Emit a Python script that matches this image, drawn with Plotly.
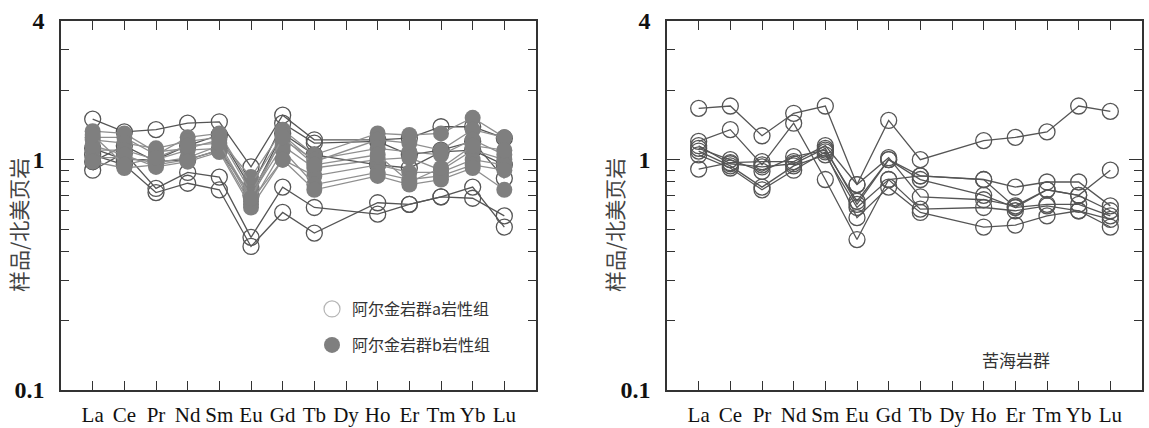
import plotly.graph_objects as go

elements = ["La", "Ce", "Pr", "Nd", "Sm", "Eu", "Gd", "Tb", "Dy", "Ho", "Er", "Tm", "Yb", "Lu"]
N = None  # Dy not analysed

# Left panel, group a (open circles)
a1 = [1.50, 1.32, 1.35, 1.44, 1.46, 0.93, 1.56, 1.22, N, 1.22, 1.24, 1.39, 1.39, 1.24]
a2 = [0.90, 1.07, 0.75, 0.88, 0.84, 0.46, 0.76, 0.62, N, 0.58, 0.64, 0.69, 0.68, 0.57]
a3 = [1.05, 0.95, 0.72, 0.79, 0.74, 0.42, 0.59, 0.48, N, 0.65, 0.64, 0.69, 0.76, 0.51]
a4 = [1.12, 1.00, 1.00, 1.15, 1.28, 0.75, 1.44, 1.18, N, 1.20, 1.05, 1.10, 1.20, 0.83]
a5 = [0.98, 1.15, 0.98, 1.00, 1.10, 0.70, 1.30, 1.05, N, 0.95, 0.92, 1.08, 1.10, 0.95]
group_a = [a1, a2, a3, a4, a5]

# Left panel, group b (filled circles)
b1 = [1.33, 1.30, 1.08, 1.12, 1.22, 0.84, 1.35, 1.05, N, 1.30, 1.28, 1.30, 1.52, 1.25]
b2 = [1.25, 1.25, 1.05, 1.25, 1.30, 0.78, 1.28, 0.98, N, 1.22, 1.18, 1.10, 1.35, 1.25]
b3 = [1.22, 1.18, 1.12, 1.20, 1.25, 0.72, 1.22, 1.00, N, 1.12, 1.08, 1.05, 1.22, 1.05]
b4 = [1.10, 1.10, 1.00, 1.10, 1.12, 0.70, 1.15, 0.92, N, 1.00, 1.02, 0.90, 1.10, 1.00]
b5 = [1.02, 1.02, 0.97, 1.02, 1.15, 0.66, 1.00, 0.85, N, 0.95, 0.88, 0.88, 1.00, 0.95]
b6 = [0.98, 0.92, 0.95, 1.00, 1.10, 0.64, 1.10, 0.78, N, 0.88, 0.82, 0.85, 0.95, 0.90]
b7 = [1.15, 1.05, 0.93, 0.98, 1.08, 0.62, 1.00, 0.74, N, 0.85, 0.78, 0.82, 0.92, 0.74]
b8 = [1.28, 0.95, 1.02, 1.15, 1.18, 0.68, 1.25, 0.95, N, 1.05, 0.80, 0.92, 1.15, 1.10]
group_b = [b1, b2, b3, b4, b5, b6, b7, b8]

# Right panel (苦海岩群)
r1 = [1.67, 1.71, 1.27, 1.59, 1.71, 0.78, 1.48, 1.00, N, 1.21, 1.25, 1.32, 1.71, 1.62]
r2 = [1.20, 1.35, 0.95, 1.44, 0.82, 0.45, 0.82, 0.85, N, 0.82, 0.76, 0.80, 0.80, 0.63]
r3 = [0.91, 0.97, 0.98, 0.98, 1.15, 0.78, 1.02, 0.69, N, 0.67, 0.63, 0.74, 0.70, 0.90]
r4 = [1.12, 1.00, 0.89, 1.03, 1.10, 0.66, 1.00, 0.82, N, 0.70, 0.62, 0.64, 0.64, 0.57]
r5 = [1.09, 0.94, 0.76, 0.94, 1.05, 0.62, 0.82, 0.61, N, 0.62, 0.60, 0.63, 0.60, 0.55]
r6 = [1.05, 0.92, 0.74, 0.90, 1.08, 0.56, 0.76, 0.59, N, 0.51, 0.52, 0.57, 0.60, 0.51]
r7 = [1.15, 0.96, 0.93, 0.96, 1.12, 0.64, 1.00, 0.85, N, 0.82, 0.62, 0.74, 0.70, 0.60]
group_r = [r1, r2, r3, r4, r5, r6, r7]

y_major = [0.1, 1, 4]
y_major_text = ["0.1", "1", "4"]
y_minor = [0.2, 0.3, 0.4, 0.5, 0.6, 0.7, 0.8, 0.9, 2, 3]

legend_a = "阿尔金岩群a岩性组"
legend_b = "阿尔金岩群b岩性组"
panel_label = "苦海岩群"
y_title = "样品/北美页岩"

W, H = 1149, 428
DARK = "#555555"
FILL = "#7f7f7f"
LIGHT_LINE = "#8f8f8f"
MS = 16
CJK = "Noto Sans CJK SC"

fig = go.Figure()
xs = list(range(len(elements)))

def open_trace(vals, xa, ya):
    return go.Scatter(x=xs, y=vals, xaxis=xa, yaxis=ya, mode="lines+markers",
                      connectgaps=True, showlegend=False,
                      line=dict(color=DARK, width=1.3),
                      marker=dict(symbol="circle-open", size=MS, color=DARK,
                                  line=dict(width=1.3, color=DARK)))

for s in group_a:
    fig.add_trace(open_trace(s, "x", "y"))
for s in group_b:
    fig.add_trace(go.Scatter(x=xs, y=s, xaxis="x", yaxis="y", mode="lines+markers",
                             connectgaps=True, showlegend=False,
                             line=dict(color=LIGHT_LINE, width=1.3),
                             marker=dict(symbol="circle", size=MS, color=FILL,
                                         line=dict(width=0))))
for s in group_r:
    fig.add_trace(open_trace(s, "x2", "y2"))

# legend-only entries
fig.add_trace(go.Scatter(x=[None], y=[None], xaxis="x", yaxis="y", mode="markers",
                         name=legend_a, legend="legend",
                         marker=dict(symbol="circle-open", size=16, color="#b5b5b5",
                                     line=dict(width=1.2, color="#b5b5b5"))))
fig.add_trace(go.Scatter(x=[None], y=[None], xaxis="x", yaxis="y", mode="markers",
                         name=legend_b, legend="legend2",
                         marker=dict(symbol="circle", size=16, color=FILL)))

def px_x(p):
    return p / W

def px_y(p):
    return 1 - p / H

xdom1 = [px_x(61), px_x(536)]
xdom2 = [px_x(667), px_x(1142)]
ydom = [px_y(390), px_y(21)]

def xaxis(dom, anchor):
    return dict(domain=dom, anchor=anchor, range=[-1, 14], tickmode="array",
                tickvals=xs, ticktext=elements, ticks="inside", ticklen=9,
                tickwidth=1.2, tickcolor="#333", showline=True, linecolor="#333",
                linewidth=1.5, mirror="ticks", showgrid=False, zeroline=False,
                ticklabelstandoff=5,
                tickfont=dict(family="Liberation Serif", size=21, color="#111"))

def yaxis(anchor):
    return dict(domain=ydom, anchor=anchor, type="log",
                range=[-1, 0.60206], tickmode="array", tickvals=y_major,
                ticktext=["<b>%s</b>" % t for t in y_major_text],
                ticks="inside", ticklen=13, tickwidth=1.2, tickcolor="#333",
                minor=dict(tickmode="array", tickvals=y_minor, ticks="inside",
                           ticklen=8, tickwidth=1.2, tickcolor="#333", showgrid=False),
                showline=True, linecolor="#333", linewidth=1.5, mirror="ticks",
                showgrid=False, zeroline=False, ticklabelstandoff=10,
                tickfont=dict(family="Liberation Serif", size=24, color="#111"))

fig.update_layout(
    width=W, height=H,
    margin=dict(l=0, r=0, t=0, b=0, autoexpand=False),
    paper_bgcolor="white", plot_bgcolor="white",
    xaxis=xaxis(xdom1, "y"), yaxis=yaxis("x"),
    xaxis2=xaxis(xdom2, "y2"), yaxis2=yaxis("x2"),
    legend=dict(x=px_x(312), y=px_y(309), xanchor="left", yanchor="middle",
                bgcolor="rgba(0,0,0,0)", itemclick=False,
                font=dict(family=CJK, size=16, color="#333")),
    legend2=dict(x=px_x(312), y=px_y(345), xanchor="left", yanchor="middle",
                 bgcolor="rgba(0,0,0,0)", itemclick=False,
                 font=dict(family=CJK, size=16, color="#333")),
    annotations=[
        dict(text=y_title, xref="paper", yref="paper", x=px_x(18), y=px_y(225),
             xanchor="center", yanchor="middle",
             textangle=-90, showarrow=False,
             font=dict(family=CJK, size=21, color="#444")),
        dict(text=y_title, xref="paper", yref="paper", x=px_x(614), y=px_y(225),
             xanchor="center", yanchor="middle",
             textangle=-90, showarrow=False,
             font=dict(family=CJK, size=21, color="#444")),
        dict(text=panel_label, xref="paper", yref="paper", x=px_x(1016), y=px_y(359),
             xanchor="center", yanchor="middle", showarrow=False,
             font=dict(family=CJK, size=17, color="#333")),
    ],
)

fig.write_html("out.html", config={"displayModeBar": False},
               post_script="document.body.style.margin='0';")
